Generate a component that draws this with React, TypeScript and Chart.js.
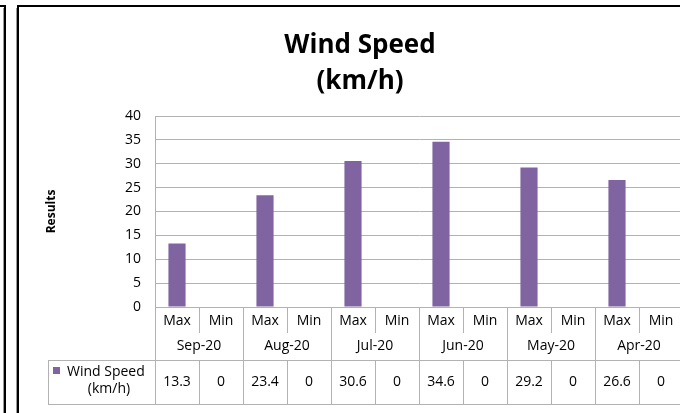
import React, { useEffect, useRef } from "react";
import { Chart, registerables } from "chart.js";

Chart.register(...registerables);

const months = ["Sep-20", "Aug-20", "Jul-20", "Jun-20", "May-20", "Apr-20"];
const subLabels = ["Max", "Min"];
const maxValues = [13.3, 23.4, 30.6, 34.6, 29.2, 26.6];
const minValues = [0, 0, 0, 0, 0, 0];
const seriesName = ["Wind Speed", "(km/h)"];
const titleLines = ["Wind Speed", "(km/h)"];
const yAxisTitle = "Results";

const BAR_COLOR = "#8064A2";
const GRID_COLOR = "#B2B2B2";
const FONT = "'Open Sans', 'DejaVu Sans', sans-serif";

const categoryLabels = months.flatMap((m) => subLabels.map((s) => `${s} ${m}`));
const values = months.flatMap((_, i) => [maxValues[i], minValues[i]]);

const tablePlugin = {
  id: "excelTable",
  afterDraw(chart: any) {
    const ctx = chart.ctx as CanvasRenderingContext2D;
    const xs = chart.scales.x;
    const area = chart.chartArea;
    const n = categoryLabels.length;
    const colW = (xs.right - xs.left) / n;
    const y0 = area.bottom;
    const ySub = y0 + 26;
    const yRow = y0 + 53;
    const yEnd = y0 + 97;
    const legendLeft = 48;
    const a = (v: number) => Math.round(v) + 0.5;

    ctx.save();
    // table lines
    ctx.strokeStyle = GRID_COLOR;
    ctx.lineWidth = 1;
    ctx.beginPath();
    for (let i = 0; i <= n; i++) {
      const x = a(xs.getPixelForValue(i) - colW / 2);
      if (i % 2 === 0) {
        ctx.moveTo(x, y0);
        ctx.lineTo(x, yEnd);
      } else {
        ctx.moveTo(x, y0);
        ctx.lineTo(x, ySub);
        ctx.moveTo(x, yRow);
        ctx.lineTo(x, yEnd);
      }
    }
    ctx.moveTo(legendLeft, a(yRow));
    ctx.lineTo(chart.width, a(yRow));
    ctx.moveTo(legendLeft, a(yEnd));
    ctx.lineTo(chart.width, a(yEnd));
    ctx.moveTo(a(legendLeft), yRow);
    ctx.lineTo(a(legendLeft), yEnd);
    ctx.stroke();

    // texts
    ctx.fillStyle = "#000";
    ctx.font = `14px ${FONT}`;
    ctx.textAlign = "center";
    ctx.textBaseline = "middle";
    for (let i = 0; i < n; i++) {
      const cx = xs.getPixelForValue(i);
      ctx.fillText(subLabels[i % 2], cx, y0 + 14);
      ctx.fillText(String(values[i]), cx, yRow + 22);
    }
    for (let g = 0; g < months.length; g++) {
      const cx = (xs.getPixelForValue(g * 2) + xs.getPixelForValue(g * 2 + 1)) / 2;
      ctx.fillText(months[g], cx, y0 + 39);
    }
    // legend key
    ctx.fillStyle = BAR_COLOR;
    ctx.fillRect(53, yRow + 7, 7, 7);
    ctx.fillStyle = "#000";
    ctx.textAlign = "left";
    ctx.fillText(seriesName[0], 67, yRow + 12);
    ctx.textAlign = "center";
    ctx.fillText(seriesName[1], 109, yRow + 29);

    // title
    ctx.font = `bold 26px ${FONT}`;
    ctx.textBaseline = "alphabetic";
    ctx.fillText(titleLines[0], 360, 53);
    ctx.fillText(titleLines[1], 360, 89);

    // y axis title
    ctx.save();
    ctx.translate(52, (area.top + area.bottom) / 2);
    ctx.rotate(-Math.PI / 2);
    ctx.font = `bold 12px ${FONT}`;
    ctx.textBaseline = "middle";
    ctx.fillText(yAxisTitle, 0, 0);
    ctx.restore();

    // borders
    ctx.strokeStyle = "#000";
    ctx.lineWidth = 2;
    ctx.beginPath();
    ctx.moveTo(0, 6);
    ctx.lineTo(5, 6);
    ctx.lineTo(5, chart.height);
    ctx.moveTo(18, chart.height);
    ctx.lineTo(18, 6);
    ctx.lineTo(chart.width, 6);
    ctx.stroke();
    ctx.strokeStyle = "#9A9A9A";
    ctx.lineWidth = 1;
    ctx.beginPath();
    ctx.moveTo(3.5, 8);
    ctx.lineTo(3.5, chart.height);
    ctx.moveTo(16.5, chart.height);
    ctx.lineTo(16.5, 8);
    ctx.stroke();
    ctx.restore();
  },
};

export default function App() {
  const ref = useRef<HTMLCanvasElement | null>(null);

  useEffect(() => {
    if (!ref.current) return;
    const chart = new Chart(ref.current, {
      type: "bar",
      data: {
        labels: categoryLabels,
        datasets: [
          {
            label: seriesName.join(" "),
            data: values,
            backgroundColor: BAR_COLOR,
            borderWidth: 0,
            barPercentage: 0.39,
            categoryPercentage: 1,
          },
        ],
      },
      options: {
        animation: false,
        responsive: false,
        devicePixelRatio: 1,
        layout: { padding: { left: 0, top: 116, right: 17, bottom: 106 } },
        plugins: {
          legend: { display: false },
          title: { display: false },
          tooltip: { enabled: false },
        },
        scales: {
          x: { display: false, offset: true },
          y: {
            min: 0,
            max: 40,
            ticks: {
              stepSize: 5,
              padding: 14,
              color: "#000",
              font: { family: FONT, size: 14 },
            },
            grid: { color: GRID_COLOR, lineWidth: 1, drawTicks: false },
            border: { display: true, color: GRID_COLOR },
            afterFit: (s: any) => {
              s.width = 155;
            },
          },
        },
      },
      plugins: [tablePlugin],
    });
    return () => chart.destroy();
  }, []);

  return (
    <div
      style={{
        position: "absolute",
        left: 0,
        top: 0,
        width: 680,
        height: 413,
        overflow: "hidden",
        background: "#fff",
      }}
    >
      <canvas ref={ref} width={700} height={413} style={{ display: "block" }} />
    </div>
  );
}
